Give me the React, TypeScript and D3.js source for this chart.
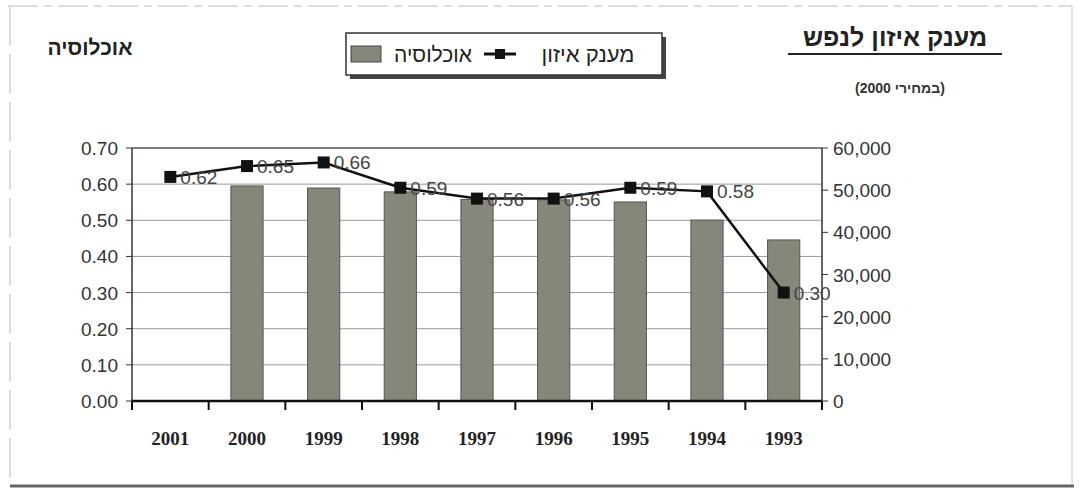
import React from 'react';
import * as d3 from 'd3';

const years = ['2001', '2000', '1999', '1998', '1997', '1996', '1995', '1994', '1993'];
const population = [0, 51000, 50500, 49600, 47800, 47700, 47200, 42900, 38200];
const grant = [0.62, 0.65, 0.66, 0.59, 0.56, 0.56, 0.59, 0.58, 0.30];
const grantLabels = ['0.62', '0.65', '0.66', '0.59', '0.56', '0.56', '0.59', '0.58', '0.30'];
const leftTicks = [0, 0.1, 0.2, 0.3, 0.4, 0.5, 0.6, 0.7];
const rightTicks = [0, 10000, 20000, 30000, 40000, 50000, 60000];

const W = 1079;
const H = 493;
const plot = { left: 132, right: 822, top: 148, bottom: 401 };

const App: React.FC = () => {
  const x = d3.scaleBand<string>()
    .domain(years)
    .range([plot.left, plot.right])
    .paddingInner(0.58)
    .paddingOuter(0.29);
  const yL = d3.scaleLinear().domain([0, 0.7]).range([plot.bottom, plot.top]);
  const yR = d3.scaleLinear().domain([0, 60000]).range([plot.bottom, plot.top]);

  const cx = (y: string) => (x(y) || 0) + x.bandwidth() / 2;
  const line = d3.line<number>()
    .x((_d, i) => cx(years[i]))
    .y(d => yL(d));

  const boundaries = d3.range(years.length + 1).map(i => plot.left + i * x.step());
  const fmt = d3.format(',');
  const heb = '"Liberation Sans", "DejaVu Sans", sans-serif';

  return (
    <svg width={W} height={H} style={{ position: 'absolute', left: 0, top: 0, background: '#fff' }}>
      {/* frame */}
      <line x1={8} x2={1072} y1={6} y2={6} stroke="#bbb" strokeDasharray="30 6 8 6" />
      <line x1={10} x2={10} y1={6} y2={486} stroke="#bbb" strokeDasharray="40 8" />
      <line x1={1072} x2={1072} y1={6} y2={486} stroke="#ccc" />
      <line x1={10} x2={1074} y1={486} y2={486} stroke="#666" strokeWidth={3} />

      {/* titles */}
      <text x={895} y={46} direction="rtl" textAnchor="middle" fontFamily={heb} fontWeight="bold" fontSize={25} fill="#222">מענק איזון לנפש</text>
      <line x1={788} x2={1002} y1={54} y2={54} stroke="#222" strokeWidth={2} />
      <text x={900} y={93} direction="rtl" textAnchor="middle" fontFamily={heb} fontWeight="bold" fontSize={14} fill="#333">(במחירי 2000)</text>
      <text x={90} y={55} direction="rtl" textAnchor="middle" fontFamily={heb} fontWeight="bold" fontSize={21} fill="#222">אוכלוסיה</text>

      {/* legend */}
      <rect x={350} y={37} width={316} height={42} fill="#444" />
      <rect x={346} y={33} width={316} height={42} fill="#fff" stroke="#333" strokeWidth={1.5} />
      <rect x={351} y={46} width={30} height={16} fill="#84877a" stroke="#444" />
      <text x={433} y={62} direction="rtl" textAnchor="middle" fontFamily={heb} fontSize={21} fill="#222">אוכלוסיה</text>
      <line x1={484} x2={516} y1={54} y2={54} stroke="#111" strokeWidth={3} />
      <rect x={495} y={49} width={10} height={10} fill="#111" />
      <text x={588} y={62} direction="rtl" textAnchor="middle" fontFamily={heb} fontSize={22} fill="#222">מענק איזון</text>

      {/* grid */}
      {leftTicks.map(t => (
        <line key={t} x1={plot.left} x2={plot.right} y1={yL(t)} y2={yL(t)}
          stroke={t === 0.7 ? '#555' : '#999'} strokeWidth={t === 0.7 ? 1.5 : 1} />
      ))}

      {/* bars */}
      {population.map((v, i) => v > 0 && (
        <rect key={years[i]} x={x(years[i])} y={yR(v)} width={x.bandwidth()} height={yR(0) - yR(v)}
          fill="#84877a" stroke="#555" strokeWidth={1} />
      ))}

      {/* axes */}
      <line x1={plot.left} x2={plot.left} y1={plot.top} y2={plot.bottom} stroke="#333" strokeWidth={1.5} />
      <line x1={plot.right} x2={plot.right} y1={plot.top} y2={plot.bottom} stroke="#333" strokeWidth={1.5} />
      <line x1={plot.left} x2={plot.right} y1={plot.bottom} y2={plot.bottom} stroke="#111" strokeWidth={2.5} />
      {boundaries.map((b, i) => (
        <line key={i} x1={b} x2={b} y1={plot.bottom} y2={plot.bottom + 9} stroke="#111" strokeWidth={2} />
      ))}
      {leftTicks.map(t => (
        <g key={t}>
          <line x1={plot.left - 6} x2={plot.left} y1={yL(t)} y2={yL(t)} stroke="#333" />
          <text x={plot.left - 14} y={yL(t) + 7} textAnchor="end" fontFamily="'Liberation Sans', sans-serif" fontSize={19} fill="#333">
            {t.toFixed(2)}
          </text>
        </g>
      ))}
      {rightTicks.map(t => (
        <g key={t}>
          <line x1={plot.right} x2={plot.right + 6} y1={yR(t)} y2={yR(t)} stroke="#333" />
          <text x={plot.right + 11} y={yR(t) + 7} textAnchor="start" fontFamily="'Liberation Sans', sans-serif" fontSize={19} fill="#333">
            {fmt(t)}
          </text>
        </g>
      ))}
      {years.map(y => (
        <text key={y} x={cx(y)} y={445} textAnchor="middle" fontFamily="'Liberation Serif', 'Times New Roman', serif" fontWeight="bold" fontSize={19} fill="#222">
          {y}
        </text>
      ))}

      {/* line series */}
      <path d={line(grant) || ''} fill="none" stroke="#111" strokeWidth={2.5} />
      {grant.map((v, i) => (
        <g key={years[i]}>
          <rect x={cx(years[i]) - 6} y={yL(v) - 6} width={12} height={12} fill="#111" />
          <text x={cx(years[i]) + 10} y={yL(v) + 7} fontFamily="'Liberation Sans', sans-serif" fontSize={19} fill="#444">
            {grantLabels[i]}
          </text>
        </g>
      ))}
    </svg>
  );
};

export default App;
